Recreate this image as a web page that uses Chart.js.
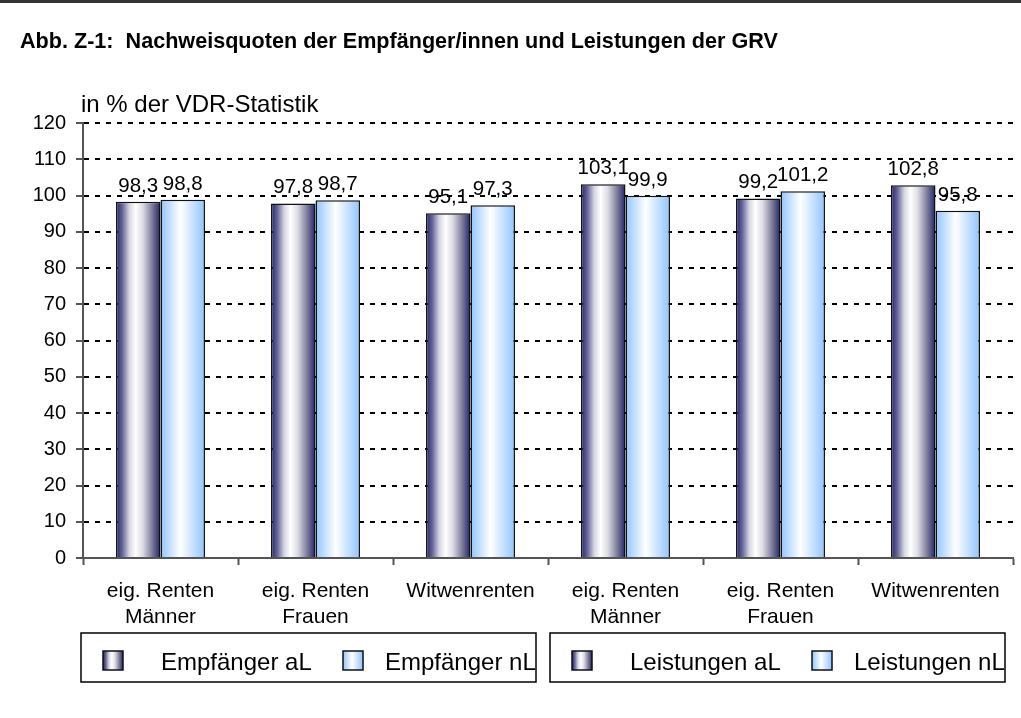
<!DOCTYPE html>
<html lang="de">
<head>
<meta charset="utf-8">
<title>Nachweisquoten der Empfänger/innen und Leistungen der GRV</title>
<script src="https://cdn.jsdelivr.net/npm/chart.js@4/dist/chart.umd.min.js"></script>
<style>
  html, body { margin: 0; padding: 0; background: #fff; }
  #wrap { width: 1021px; height: 718px; }
</style>
</head>
<body>
<div id="wrap"><canvas id="chart" width="1021" height="718"></canvas></div>
<script>
const categories = [
  ['eig. Renten', 'Männer'],
  ['eig. Renten', 'Frauen'],
  ['Witwenrenten'],
  ['eig. Renten', 'Männer'],
  ['eig. Renten', 'Frauen'],
  ['Witwenrenten']
];
const empfaengerAL = [98.3, 97.8, 95.1, null, null, null];
const empfaengerNL = [98.8, 98.7, 97.3, null, null, null];
const leistungenAL = [null, null, null, 103.1, 99.2, 102.8];
const leistungenNL = [null, null, null, 99.9, 101.2, 95.8];
const yTicks = [0, 10, 20, 30, 40, 50, 60, 70, 80, 90, 100, 110, 120];

const titleText = 'Abb. Z-1:  Nachweisquoten der Empfänger/innen und Leistungen der GRV';
const axisTitle = 'in % der VDR-Statistik';
const FONT = 'Arial, "Liberation Sans", sans-serif';

function darkGradient(ctx, x0, x1) {
  const g = ctx.createLinearGradient(x0, 0, x1, 0);
  g.addColorStop(0, '#222268');
  g.addColorStop(0.14, '#65659a');
  g.addColorStop(0.3, '#d6d6e2');
  g.addColorStop(0.44, '#ffffff');
  g.addColorStop(0.6, '#dcdce4');
  g.addColorStop(0.8, '#82829f');
  g.addColorStop(1, '#222268');
  return g;
}

function lightGradient(ctx, x0, x1) {
  const g = ctx.createLinearGradient(x0, 0, x1, 0);
  g.addColorStop(0, '#90c4ff');
  g.addColorStop(0.45, '#ffffff');
  g.addColorStop(1, '#90c4ff');
  return g;
}

function fill(ctx, kind, x0, x1) {
  return kind === 'dark' ? darkGradient(ctx, x0, x1) : lightGradient(ctx, x0, x1);
}

function formatValue(v) {
  return v.toFixed(1).replace('.', ',');
}

// bars get their cylinder-like gradient from their real geometry
const gradientPlugin = {
  id: 'gradients',
  beforeDatasetsDraw(chart) {
    const ctx = chart.ctx;
    chart.data.datasets.forEach((ds, i) => {
      chart.getDatasetMeta(i).data.forEach((el, j) => {
        if (ds.data[j] === null) return;
        const half = el.width / 2;
        el.options.backgroundColor = fill(ctx, ds.kind, el.x - half, el.x + half);
      });
    });
  }
};

const labelPlugin = {
  id: 'valueLabels',
  afterDatasetsDraw(chart) {
    const ctx = chart.ctx;
    ctx.save();
    ctx.font = '20.5px ' + FONT;
    ctx.fillStyle = '#000';
    ctx.textAlign = 'center';
    ctx.textBaseline = 'alphabetic';
    chart.data.datasets.forEach((ds, i) => {
      chart.getDatasetMeta(i).data.forEach((el, j) => {
        const v = ds.data[j];
        if (v === null) return;
        ctx.fillText(formatValue(v), el.x, el.y - 10);
      });
    });
    ctx.restore();
  }
};

const decorPlugin = {
  id: 'decor',
  afterDraw(chart) {
    const ctx = chart.ctx;
    ctx.save();

    // rule at the top of the page
    ctx.fillStyle = '#333';
    ctx.fillRect(0, 0, chart.width, 3);

    ctx.fillStyle = '#000';
    ctx.textAlign = 'left';
    ctx.textBaseline = 'alphabetic';
    ctx.font = 'bold 21.6px ' + FONT;
    ctx.fillText(titleText, 20, 48);

    ctx.font = '24px ' + FONT;
    ctx.fillText(axisTitle, 81, 112);

    // two separate legend boxes, one per pair of series
    const boxes = [
      { x: 81, sets: [0, 1] },
      { x: 550, sets: [2, 3] }
    ];
    const boxY = 633, boxW = 455, boxH = 49;
    const markerX = [22, 262];
    const textX = [80, 304];
    boxes.forEach(box => {
      ctx.save();
      ctx.beginPath();
      ctx.rect(box.x, boxY, boxW, boxH);
      ctx.clip();
      box.sets.forEach((di, k) => {
        const ds = chart.data.datasets[di];
        const mx = box.x + markerX[k];
        ctx.fillStyle = fill(ctx, ds.kind, mx, mx + 20);
        ctx.fillRect(mx, 651, 20, 19);
        ctx.strokeStyle = '#111';
        ctx.lineWidth = 1.5;
        ctx.strokeRect(mx, 651, 20, 19);
        ctx.fillStyle = '#000';
        ctx.font = '24px ' + FONT;
        ctx.fillText(ds.label, box.x + textX[k], 670);
      });
      ctx.restore();
      ctx.strokeStyle = '#000';
      ctx.lineWidth = 1.5;
      ctx.strokeRect(box.x, boxY, boxW, boxH);
    });

    ctx.restore();
  }
};

const barStyle = {
  borderColor: '#111',
  borderWidth: 1.5,
  skipNull: true,
  categoryPercentage: 0.574,
  barPercentage: 1.0
};

new Chart(document.getElementById('chart'), {
  type: 'bar',
  data: {
    labels: categories,
    datasets: [
      { label: 'Empfänger aL', data: empfaengerAL, kind: 'dark', backgroundColor: () => '#65659a', ...barStyle },
      { label: 'Empfänger nL', data: empfaengerNL, kind: 'light', backgroundColor: () => '#bfe0ff', ...barStyle },
      { label: 'Leistungen aL', data: leistungenAL, kind: 'dark', backgroundColor: () => '#65659a', ...barStyle },
      { label: 'Leistungen nL', data: leistungenNL, kind: 'light', backgroundColor: () => '#bfe0ff', ...barStyle }
    ]
  },
  options: {
    responsive: false,
    animation: false,
    devicePixelRatio: 1,
    layout: { padding: { top: 123, right: 8, left: 0, bottom: 0 } },
    plugins: {
      legend: { display: false },
      tooltip: { enabled: false }
    },
    scales: {
      x: {
        afterFit: (scale) => { scale.height = 160; },
        grid: {
          offset: true,
          drawOnChartArea: false,
          tickLength: 7,
          tickColor: '#555',
          tickWidth: 2
        },
        border: { color: '#555', width: 2 },
        ticks: {
          color: '#000',
          padding: 13,
          font: { family: FONT, size: 21, lineHeight: 1.24 },
          maxRotation: 0,
          autoSkip: false
        }
      },
      y: {
        min: 0,
        max: 120,
        afterFit: (scale) => { scale.width = 83; },
        afterBuildTicks: (axis) => { axis.ticks = yTicks.map(v => ({ value: v })); },
        grid: {
          color: '#000',
          lineWidth: 2,
          tickLength: 7,
          tickColor: '#555',
          tickWidth: 2
        },
        border: { color: '#555', width: 2, dash: [5, 6] },
        ticks: {
          color: '#000',
          padding: 10,
          font: { family: FONT, size: 20 }
        }
      }
    }
  },
  plugins: [gradientPlugin, labelPlugin, decorPlugin]
});
</script>
</body>
</html>
